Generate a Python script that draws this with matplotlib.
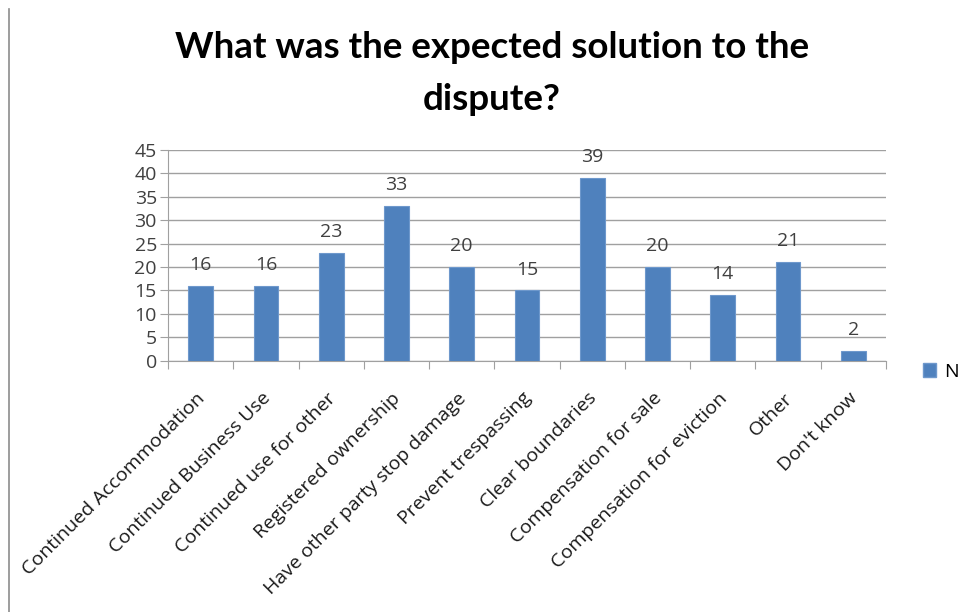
import matplotlib.pyplot as plt
from matplotlib.lines import Line2D
from matplotlib.patches import Patch
import numpy as np

# chart data
categories = ['Continued Accommodation', 'Continued Business Use', 'Continued use for other',
              'Registered ownership', 'Have other party stop damage', 'Prevent trespassing',
              'Clear boundaries', 'Compensation for sale', 'Compensation for eviction',
              'Other', "Don't know"]
counts = [16, 16, 23, 33, 20, 15, 39, 20, 14, 21, 2]
y_ticks = [0, 5, 10, 15, 20, 25, 30, 35, 40, 45]

plt.rcParams['font.family'] = ['Open Sans', 'DejaVu Sans']

fig = plt.figure(figsize=(9.63, 6.12), dpi=100)
ax = fig.add_axes([0.1745, 0.4106, 0.7455, 0.3443])

x = np.arange(len(categories))
bars = ax.bar(x, counts, width=0.38, color='#4F81BD', edgecolor='#6E98CC', linewidth=0.8, zorder=3)

for xi, v in zip(x, counts):
    ax.text(xi, v + 3.4, str(v), ha='center', va='baseline', fontsize=14, color='#404040')

ax.set_xlim(-0.5, len(categories) - 0.5)
ax.set_ylim(0, 45)
ax.set_yticks(y_ticks)
ax.set_yticklabels([str(t) for t in y_ticks], fontsize=14, color='#404040')
ax.yaxis.grid(True, color='#A0A0A0', linewidth=1, zorder=0)
ax.tick_params(axis='y', length=6, color='#A0A0A0', pad=2)

# category boundary ticks and rotated labels
ax.set_xticks(np.arange(-0.5, len(categories), 1.0))
ax.set_xticklabels([])
ax.tick_params(axis='x', length=6, color='#A0A0A0')
for xi, lab in zip(x, categories):
    ax.annotate(lab, xy=(xi, 0), xycoords=('data', 'axes fraction'),
                xytext=(1, -25), textcoords='offset points',
                rotation=45, rotation_mode='anchor', ha='right', va='center',
                fontsize=14, color='#1a1a1a')

for side in ['top', 'right']:
    ax.spines[side].set_visible(False)
ax.spines['left'].set_color('#A0A0A0')
ax.spines['bottom'].set_color('#A0A0A0')

fig.text(0.511, 0.905, 'What was the expected solution to the', ha='center', va='baseline',
         fontsize=26.5, fontweight='bold', color='black', family='Lato')
fig.text(0.511, 0.820, 'dispute?', ha='center', va='baseline',
         fontsize=26.5, fontweight='bold', color='black', family='Lato')

handles = [Patch(facecolor='#4F81BD', edgecolor='#6E98CC')]
fig.legend(handles, ['N'], loc='center left', bbox_to_anchor=(0.94, 0.392), frameon=False,
           fontsize=14, handlelength=0.7, handleheight=0.7, handletextpad=0.4)

# left border line of the chart frame
fig.add_artist(Line2D([0.0095, 0.0095], [0.0, 0.985], color='#8C8C8C', linewidth=1.2))

fig.savefig('out.png', dpi=100)
